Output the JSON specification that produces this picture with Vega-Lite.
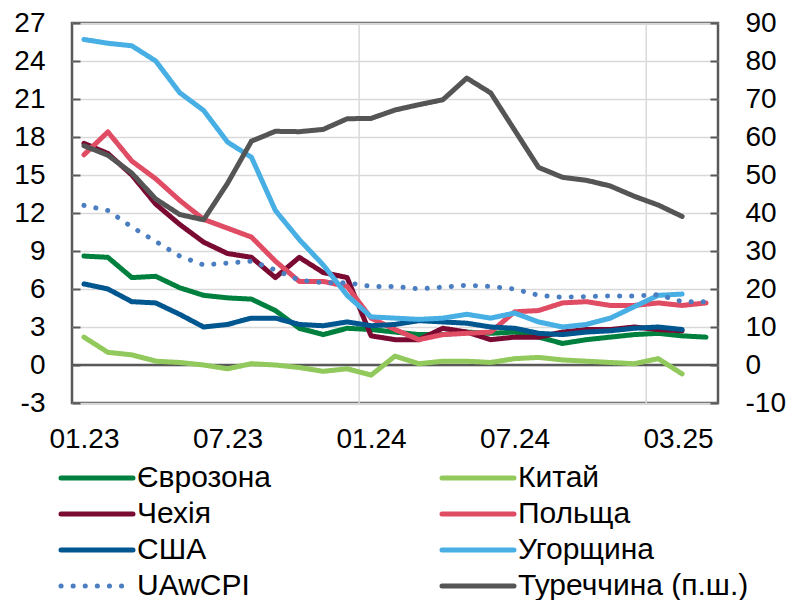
{
  "$schema": "https://vega.github.io/schema/vega-lite/v6.json",
  "width": 646,
  "height": 380,
  "autosize": {"type": "none"},
  "padding": {"left": 72, "top": 23, "right": 68, "bottom": 197},
  "background": "white",
  "config": {
    "view": {"stroke": "#595959", "strokeWidth": 2.5},
    "font": "Liberation Sans",
    "axis": {"labelFont": "Liberation Sans", "labelFontSize": 28, "labelColor": "#000000", "domain": false, "labelOverlap": false},
    "legend": {"labelFont": "Liberation Sans", "labelFontSize": 30, "labelColor": "#000000", "labelLimit": 400}
  },
  "datasets": {
    "left": [
      {"s":"Єврозона","m":0,"v":8.6},{"s":"Єврозона","m":1,"v":8.5},{"s":"Єврозона","m":2,"v":6.9},{"s":"Єврозона","m":3,"v":7.0},{"s":"Єврозона","m":4,"v":6.1},{"s":"Єврозона","m":5,"v":5.5},{"s":"Єврозона","m":6,"v":5.3},{"s":"Єврозона","m":7,"v":5.2},{"s":"Єврозона","m":8,"v":4.3},{"s":"Єврозона","m":9,"v":2.9},{"s":"Єврозона","m":10,"v":2.4},{"s":"Єврозона","m":11,"v":2.9},{"s":"Єврозона","m":12,"v":2.8},{"s":"Єврозона","m":13,"v":2.6},{"s":"Єврозона","m":14,"v":2.4},{"s":"Єврозона","m":15,"v":2.4},{"s":"Єврозона","m":16,"v":2.6},{"s":"Єврозона","m":17,"v":2.5},{"s":"Єврозона","m":18,"v":2.6},{"s":"Єврозона","m":19,"v":2.2},{"s":"Єврозона","m":20,"v":1.7},{"s":"Єврозона","m":21,"v":2.0},{"s":"Єврозона","m":22,"v":2.2},{"s":"Єврозона","m":23,"v":2.4},{"s":"Єврозона","m":24,"v":2.5},{"s":"Єврозона","m":25,"v":2.3},{"s":"Єврозона","m":26,"v":2.2},
      {"s":"Китай","m":0,"v":2.2},{"s":"Китай","m":1,"v":1.0},{"s":"Китай","m":2,"v":0.8},{"s":"Китай","m":3,"v":0.3},{"s":"Китай","m":4,"v":0.2},{"s":"Китай","m":5,"v":0.0},{"s":"Китай","m":6,"v":-0.3},{"s":"Китай","m":7,"v":0.1},{"s":"Китай","m":8,"v":0.0},{"s":"Китай","m":9,"v":-0.2},{"s":"Китай","m":10,"v":-0.5},{"s":"Китай","m":11,"v":-0.3},{"s":"Китай","m":12,"v":-0.8},{"s":"Китай","m":13,"v":0.7},{"s":"Китай","m":14,"v":0.1},{"s":"Китай","m":15,"v":0.3},{"s":"Китай","m":16,"v":0.3},{"s":"Китай","m":17,"v":0.2},{"s":"Китай","m":18,"v":0.5},{"s":"Китай","m":19,"v":0.6},{"s":"Китай","m":20,"v":0.4},{"s":"Китай","m":21,"v":0.3},{"s":"Китай","m":22,"v":0.2},{"s":"Китай","m":23,"v":0.1},{"s":"Китай","m":24,"v":0.5},{"s":"Китай","m":25,"v":-0.7},
      {"s":"Чехія","m":0,"v":17.5},{"s":"Чехія","m":1,"v":16.7},{"s":"Чехія","m":2,"v":15.0},{"s":"Чехія","m":3,"v":12.7},{"s":"Чехія","m":4,"v":11.1},{"s":"Чехія","m":5,"v":9.7},{"s":"Чехія","m":6,"v":8.8},{"s":"Чехія","m":7,"v":8.5},{"s":"Чехія","m":8,"v":6.9},{"s":"Чехія","m":9,"v":8.5},{"s":"Чехія","m":10,"v":7.3},{"s":"Чехія","m":11,"v":6.9},{"s":"Чехія","m":12,"v":2.3},{"s":"Чехія","m":13,"v":2.0},{"s":"Чехія","m":14,"v":2.0},{"s":"Чехія","m":15,"v":2.9},{"s":"Чехія","m":16,"v":2.6},{"s":"Чехія","m":17,"v":2.0},{"s":"Чехія","m":18,"v":2.2},{"s":"Чехія","m":19,"v":2.2},{"s":"Чехія","m":20,"v":2.6},{"s":"Чехія","m":21,"v":2.8},{"s":"Чехія","m":22,"v":2.8},{"s":"Чехія","m":23,"v":3.0},{"s":"Чехія","m":24,"v":2.8},{"s":"Чехія","m":25,"v":2.7},
      {"s":"Польща","m":0,"v":16.6},{"s":"Польща","m":1,"v":18.4},{"s":"Польща","m":2,"v":16.1},{"s":"Польща","m":3,"v":14.7},{"s":"Польща","m":4,"v":13.0},{"s":"Польща","m":5,"v":11.5},{"s":"Польща","m":6,"v":10.8},{"s":"Польща","m":7,"v":10.1},{"s":"Польща","m":8,"v":8.2},{"s":"Польща","m":9,"v":6.6},{"s":"Польща","m":10,"v":6.6},{"s":"Польща","m":11,"v":6.2},{"s":"Польща","m":12,"v":3.7},{"s":"Польща","m":13,"v":2.8},{"s":"Польща","m":14,"v":2.0},{"s":"Польща","m":15,"v":2.4},{"s":"Польща","m":16,"v":2.5},{"s":"Польща","m":17,"v":2.6},{"s":"Польща","m":18,"v":4.2},{"s":"Польща","m":19,"v":4.3},{"s":"Польща","m":20,"v":4.9},{"s":"Польща","m":21,"v":5.0},{"s":"Польща","m":22,"v":4.7},{"s":"Польща","m":23,"v":4.7},{"s":"Польща","m":24,"v":4.9},{"s":"Польща","m":25,"v":4.7},{"s":"Польща","m":26,"v":4.9},
      {"s":"США","m":0,"v":6.4},{"s":"США","m":1,"v":6.0},{"s":"США","m":2,"v":5.0},{"s":"США","m":3,"v":4.9},{"s":"США","m":4,"v":4.0},{"s":"США","m":5,"v":3.0},{"s":"США","m":6,"v":3.2},{"s":"США","m":7,"v":3.7},{"s":"США","m":8,"v":3.7},{"s":"США","m":9,"v":3.2},{"s":"США","m":10,"v":3.1},{"s":"США","m":11,"v":3.4},{"s":"США","m":12,"v":3.1},{"s":"США","m":13,"v":3.2},{"s":"США","m":14,"v":3.5},{"s":"США","m":15,"v":3.4},{"s":"США","m":16,"v":3.3},{"s":"США","m":17,"v":3.0},{"s":"США","m":18,"v":2.9},{"s":"США","m":19,"v":2.5},{"s":"США","m":20,"v":2.4},{"s":"США","m":21,"v":2.6},{"s":"США","m":22,"v":2.7},{"s":"США","m":23,"v":2.9},{"s":"США","m":24,"v":3.0},{"s":"США","m":25,"v":2.8},
      {"s":"Угорщина","m":0,"v":25.7},{"s":"Угорщина","m":1,"v":25.4},{"s":"Угорщина","m":2,"v":25.2},{"s":"Угорщина","m":3,"v":24.0},{"s":"Угорщина","m":4,"v":21.5},{"s":"Угорщина","m":5,"v":20.1},{"s":"Угорщина","m":6,"v":17.6},{"s":"Угорщина","m":7,"v":16.4},{"s":"Угорщина","m":8,"v":12.2},{"s":"Угорщина","m":9,"v":9.9},{"s":"Угорщина","m":10,"v":7.9},{"s":"Угорщина","m":11,"v":5.5},{"s":"Угорщина","m":12,"v":3.8},{"s":"Угорщина","m":13,"v":3.7},{"s":"Угорщина","m":14,"v":3.6},{"s":"Угорщина","m":15,"v":3.7},{"s":"Угорщина","m":16,"v":4.0},{"s":"Угорщина","m":17,"v":3.7},{"s":"Угорщина","m":18,"v":4.1},{"s":"Угорщина","m":19,"v":3.4},{"s":"Угорщина","m":20,"v":3.0},{"s":"Угорщина","m":21,"v":3.2},{"s":"Угорщина","m":22,"v":3.7},{"s":"Угорщина","m":23,"v":4.6},{"s":"Угорщина","m":24,"v":5.5},{"s":"Угорщина","m":25,"v":5.6},
      {"s":"UAwCPI","m":0,"v":12.6},{"s":"UAwCPI","m":1,"v":12.2},{"s":"UAwCPI","m":2,"v":10.9},{"s":"UAwCPI","m":3,"v":9.75},{"s":"UAwCPI","m":4,"v":8.6},{"s":"UAwCPI","m":5,"v":7.9},{"s":"UAwCPI","m":6,"v":8.05},{"s":"UAwCPI","m":7,"v":8.2},{"s":"UAwCPI","m":8,"v":7.5},{"s":"UAwCPI","m":9,"v":6.7},{"s":"UAwCPI","m":10,"v":6.5},{"s":"UAwCPI","m":11,"v":6.5},{"s":"UAwCPI","m":12,"v":6.2},{"s":"UAwCPI","m":13,"v":6.2},{"s":"UAwCPI","m":14,"v":6.0},{"s":"UAwCPI","m":15,"v":6.15},{"s":"UAwCPI","m":16,"v":6.3},{"s":"UAwCPI","m":17,"v":6.2},{"s":"UAwCPI","m":18,"v":6.0},{"s":"UAwCPI","m":19,"v":5.5},{"s":"UAwCPI","m":20,"v":5.35},{"s":"UAwCPI","m":21,"v":5.4},{"s":"UAwCPI","m":22,"v":5.45},{"s":"UAwCPI","m":23,"v":5.45},{"s":"UAwCPI","m":24,"v":5.55},{"s":"UAwCPI","m":25,"v":5.0},{"s":"UAwCPI","m":26,"v":5.0}
    ],
    "right": [
      {"s":"Туреччина (п.ш.)","m":0,"v":57.7},{"s":"Туреччина (п.ш.)","m":1,"v":55.2},{"s":"Туреччина (п.ш.)","m":2,"v":50.5},{"s":"Туреччина (п.ш.)","m":3,"v":43.7},{"s":"Туреччина (п.ш.)","m":4,"v":39.6},{"s":"Туреччина (п.ш.)","m":5,"v":38.2},{"s":"Туреччина (п.ш.)","m":6,"v":47.8},{"s":"Туреччина (п.ш.)","m":7,"v":58.9},{"s":"Туреччина (п.ш.)","m":8,"v":61.5},{"s":"Туреччина (п.ш.)","m":9,"v":61.4},{"s":"Туреччина (п.ш.)","m":10,"v":62.0},{"s":"Туреччина (п.ш.)","m":11,"v":64.8},{"s":"Туреччина (п.ш.)","m":12,"v":64.9},{"s":"Туреччина (п.ш.)","m":13,"v":67.1},{"s":"Туреччина (п.ш.)","m":14,"v":68.5},{"s":"Туреччина (п.ш.)","m":15,"v":69.8},{"s":"Туреччина (п.ш.)","m":16,"v":75.5},{"s":"Туреччина (п.ш.)","m":17,"v":71.6},{"s":"Туреччина (п.ш.)","m":18,"v":61.8},{"s":"Туреччина (п.ш.)","m":19,"v":52.0},{"s":"Туреччина (п.ш.)","m":20,"v":49.4},{"s":"Туреччина (п.ш.)","m":21,"v":48.6},{"s":"Туреччина (п.ш.)","m":22,"v":47.1},{"s":"Туреччина (п.ш.)","m":23,"v":44.4},{"s":"Туреччина (п.ш.)","m":24,"v":42.1},{"s":"Туреччина (п.ш.)","m":25,"v":39.1}
    ],
    "yearBreaks": [{"m": 11.5}, {"m": 23.5}],
    "zero": [{"v": 0}]
  },
  "layer": [
    {
      "layer": [
        {
          "data": {"name": "yearBreaks"},
          "mark": {"type": "rule", "color": "#D9D9D9", "strokeWidth": 1.5},
          "encoding": {"x": {"field": "m", "type": "quantitative"}}
        },
        {
          "data": {"name": "zero"},
          "mark": {"type": "rule", "color": "#595959", "strokeWidth": 2.5},
          "encoding": {
            "y": {
              "field": "v", "type": "quantitative",
              "axis": {
                "title": null, "orient": "left", "values": [-3, 0, 3, 6, 9, 12, 15, 18, 21, 24, 27],
                "labelExpr": "datum.value + ''", "labelOverlap": false,
                "grid": true, "gridColor": "#D9D9D9", "gridWidth": 1.5,
                "tickSize": -8, "tickColor": "#595959", "tickWidth": 2, "labelPadding": 35
              }
            }
          }
        },
        {
          "data": {"name": "left"},
          "mark": {"type": "line", "strokeWidth": 5, "strokeCap": "round", "strokeJoin": "round"},
          "encoding": {
            "x": {
              "field": "m", "type": "quantitative",
              "scale": {"domain": [-0.5, 26.5], "nice": false, "zero": false},
              "axis": {
                "title": null, "grid": false, "ticks": false, "labelPadding": 22,
                "values": [0, 6, 12, 18, 26],
                "labelExpr": "datum.value == 0 ? '01.23' : datum.value == 6 ? '07.23' : datum.value == 12 ? '01.24' : datum.value == 18 ? '07.24' : '03.25'",
                "labelAlign": {"condition": {"test": "datum.value == 26", "value": "right"}, "value": "center"},
                "labelOffset": {"condition": {"test": "datum.value == 26", "value": 7}, "value": 0},
                "labelFlush": false
              }
            },
            "y": {
              "field": "v", "type": "quantitative",
              "scale": {"domain": [-3, 27], "nice": false, "zero": false},
              "axis": {
                "title": null, "orient": "left", "values": [-3, 0, 3, 6, 9, 12, 15, 18, 21, 24, 27],
                "labelExpr": "datum.value + ''", "labelOverlap": false,
                "grid": true, "gridColor": "#D9D9D9", "gridWidth": 1.5,
                "tickSize": -8, "tickColor": "#595959", "tickWidth": 2, "labelPadding": 35
              }
            },
            "color": {
              "field": "s", "type": "nominal",
              "scale": {
                "domain": ["Єврозона", "Китай", "Чехія", "Польща", "США", "Угорщина", "UAwCPI", "Туреччина (п.ш.)"],
                "range": ["#00803E", "#92C95C", "#7A0A32", "#E04C64", "#00568F", "#47AFE3", "#4A7EC1", "#555555"]
              },
              "legend": {
                "title": null, "orient": "none", "legendX": 10, "legendY": 440, "columns": 2, "direction": "horizontal",
                "padding": 0, "columnPadding": 161, "rowPadding": 6, "labelOffset": 25, "labelLimit": 400,
                "symbolType": "M-6,0H6", "symbolSize": 144, "symbolStrokeWidth": 5,
                "encode": {"symbols": {"update": {"strokeCap": {"value": "round"}}}}
              }
            },
            "strokeDash": {
              "field": "s", "type": "nominal",
              "scale": {
                "domain": ["Єврозона", "Китай", "Чехія", "Польща", "США", "Угорщина", "UAwCPI", "Туреччина (п.ш.)"],
                "range": [[1, 0], [1, 0], [1, 0], [1, 0], [1, 0], [1, 0], [0.1, 12], [1, 0]]
              },
              "legend": {
                "title": null, "orient": "none", "legendX": 10, "legendY": 440, "columns": 2, "direction": "horizontal",
                "padding": 0, "columnPadding": 161, "rowPadding": 6, "labelOffset": 25, "labelLimit": 400,
                "symbolType": "M-6,0H6", "symbolSize": 144, "symbolStrokeWidth": 5,
                "encode": {"symbols": {"update": {"strokeCap": {"value": "round"}}}}
              }
            }
          }
        }
      ]
    },
    {
      "data": {"name": "right"},
      "mark": {"type": "line", "strokeWidth": 5, "strokeCap": "round", "strokeJoin": "round"},
      "encoding": {
        "x": {"field": "m", "type": "quantitative"},
        "y": {
          "field": "v", "type": "quantitative",
          "scale": {"domain": [-10, 90], "nice": false, "zero": false},
          "axis": {
            "title": null, "orient": "right", "values": [-10, 0, 10, 20, 30, 40, 50, 60, 70, 80, 90],
            "labelExpr": "datum.value + ''", "labelOverlap": false,
            "grid": false, "tickSize": -8, "tickColor": "#595959", "tickWidth": 2, "labelPadding": 35
          }
        },
        "color": {"field": "s", "type": "nominal"},
        "strokeDash": {"field": "s", "type": "nominal"}
      }
    }
  ],
  "resolve": {"scale": {"y": "independent"}}
}
